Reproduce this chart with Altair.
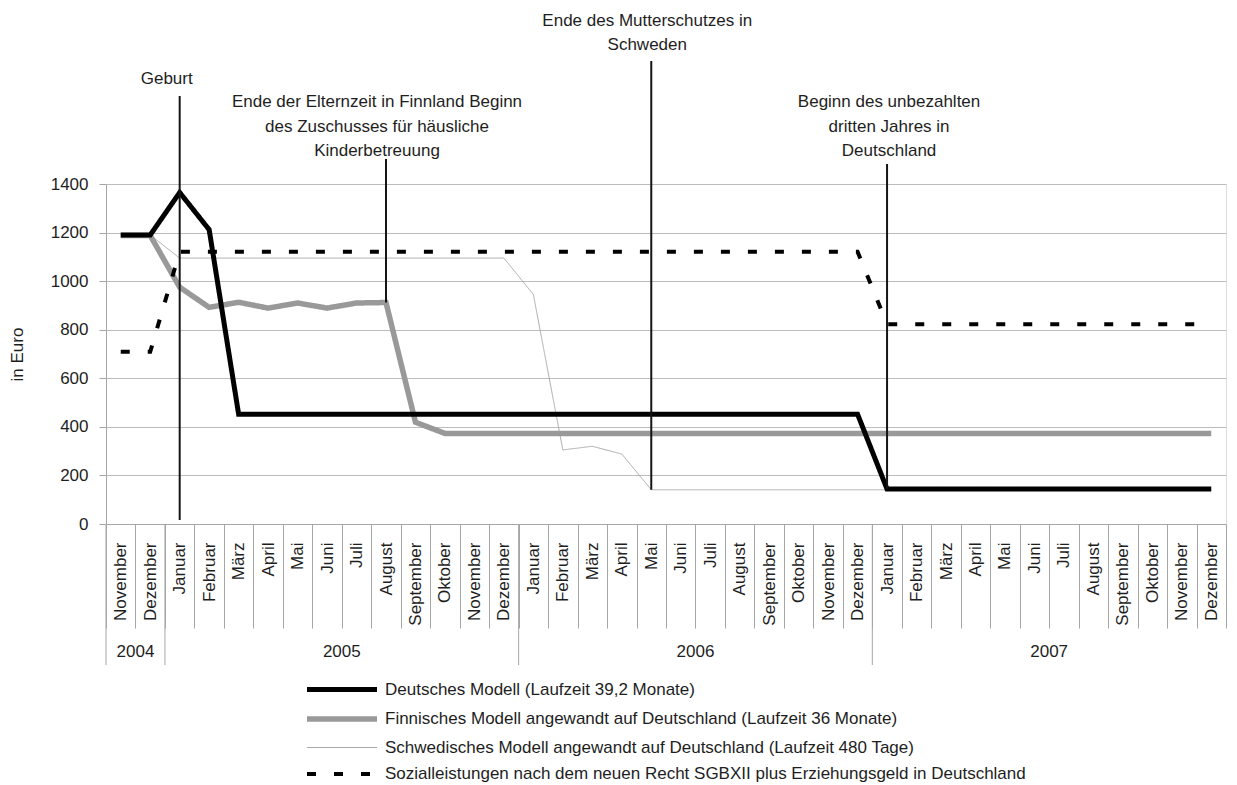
import altair as alt
import pandas as pd

# ---------------- data ----------------
month_names = [
    "November", "Dezember",
    "Januar", "Februar", "März", "April", "Mai", "Juni", "Juli", "August",
    "September", "Oktober", "November", "Dezember",
    "Januar", "Februar", "März", "April", "Mai", "Juni", "Juli", "August",
    "September", "Oktober", "November", "Dezember",
    "Januar", "Februar", "März", "April", "Mai", "Juni", "Juli", "August",
    "September", "Oktober", "November", "Dezember",
]
month_years = [
    2004, 2004,
    2005, 2005, 2005, 2005, 2005, 2005, 2005, 2005, 2005, 2005, 2005, 2005,
    2006, 2006, 2006, 2006, 2006, 2006, 2006, 2006, 2006, 2006, 2006, 2006,
    2007, 2007, 2007, 2007, 2007, 2007, 2007, 2007, 2007, 2007, 2007, 2007,
]

series_names = [
    "Deutsches Modell (Laufzeit 39,2 Monate)",
    "Finnisches Modell angewandt auf Deutschland (Laufzeit 36 Monate)",
    "Schwedisches Modell angewandt auf Deutschland (Laufzeit 480 Tage)",
    "Sozialleistungen nach dem neuen Recht SGBXII plus Erziehungsgeld in Deutschland",
]

deutsches = [
    1190, 1190,
    1365, 1212, 452, 452, 452, 452, 452, 452, 452, 452, 452, 452,
    452, 452, 452, 452, 452, 452, 452, 452, 452, 452, 452, 452,
    144, 144, 144, 144, 144, 144, 144, 144, 144, 144, 144, 144,
]
finnisches = [
    1188, 1188,
    975, 892, 913, 889, 910, 889, 910, 912, 419, 373, 373, 373,
    373, 373, 373, 373, 373, 373, 373, 373, 373, 373, 373, 373,
    373, 373, 373, 373, 373, 373, 373, 373, 373, 373, 373, 373,
]
schwedisches = [
    1190, 1190,
    1095, 1095, 1095, 1095, 1095, 1095, 1095, 1095, 1095, 1095, 1095, 1095,
    945, 305, 320, 288, 141, 141, 141, 141, 141, 141, 141, 141,
    141, 141, 141, 141, 141, 141, 141, 141, 141, 141, 141, 141,
]
sozial = [
    709, 709,
    1121, 1121, 1121, 1121, 1121, 1121, 1121, 1121, 1121, 1121, 1121, 1121,
    1121, 1121, 1121, 1121, 1121, 1121, 1121, 1121, 1121, 1121, 1121, 1121,
    823, 823, 823, 823, 823, 823, 823, 823, 823, 823, 823, 823,
]

ann_month = ["2005|Januar", "2005|August", "2006|Mai", "2007|Januar"]
ann_top = [1762, 1503, 1906, 1482]
ann_bottom = [16, 912, 141, 144]
ann_lines = [
    ["Geburt"],
    ["Ende der Elternzeit in Finnland Beginn", "des Zuschusses für häusliche", "Kinderbetreuung"],
    ["Ende des Mutterschutzes in", "Schweden"],
    ["Beginn des unbezahlten", "dritten Jahres in", "Deutschland"],
]
ann_text_y = [
    [1832],
    [1738, 1635, 1536],
    [2072, 1972],
    [1738, 1635, 1536],
]

year_labels = ["2004", "2005", "2006", "2007"]

# ---------------- tables ----------------
keys = [f"{y}|{m}" for y, m in zip(month_years, month_names)]
values_by_series = [deutsches, finnisches, schwedisches, sozial]
rows = []
for name, vals in zip(series_names, values_by_series):
    for k, v in zip(keys, vals):
        rows.append({"key": k, "Euro": v, "Modell": name})
df = pd.DataFrame(rows)

year_first, year_mid = [], []
for yl in year_labels:
    idx = [i for i, y in enumerate(month_years) if str(y) == yl]
    year_first.append(keys[idx[0]])
    year_mid.append(keys[idx[0] + len(idx) // 2])

# ---------------- style ----------------
FONT = "Liberation Sans"
TXT = "#1e1e1e"
GRID = "#bcbcbc"
AX = "#a6a6a6"
W, H = 1120, 340
FS = 17

line_colors = ["#000000", "#999999", "#ababab", "#000000"]
line_widths = [5, 5.5, 1, 4]
line_dashes = [[1, 0], [1, 0], [1, 0], [9, 18]]
draw_order = [2, 1, 0, 3]
text_dx = [-13, -9, -4, 2]

x_scale = alt.Scale(type="band", domain=keys, paddingInner=0, paddingOuter=0)
y_scale = alt.Scale(domain=[0, 1400], nice=False, zero=True)

x_axis = alt.Axis(
    title=None, labelExpr="split(datum.label, '|')[1]", labelAngle=270,
    labelAlign="right", labelBaseline="middle", labelPadding=-86,
    tickSize=104, tickBand="extent", tickColor=AX, domainColor=AX,
    labelFontSize=FS, labelColor=TXT, grid=False, labelOverlap=False,
)
y_axis = alt.Axis(
    title="in Euro", values=[0, 200, 400, 600, 800, 1000, 1200, 1400], format="d",
    tickSize=7, labelPadding=11, labelFontSize=FS, labelColor=TXT,
    grid=True, gridColor=GRID, domainColor=AX, tickColor=AX,
    titlePadding=24, titleFontSize=FS, titleFontWeight="normal", titleColor=TXT,
)

leg = alt.Legend(
    title=None, orient="none", legendX=198, legendY=495, direction="vertical",
    symbolType="M-1,0H7.75", symbolSize=256, labelOffset=59, labelFontSize=FS,
    labelColor=TXT, labelLimit=0, rowPadding=8,
    symbolStrokeWidth={"expr": "scale('strokeWidth', datum.value)"},
    symbolDash={"expr": "scale('strokeDash', datum.value)"},
)

X = lambda **kw: alt.X("key:N", scale=x_scale, axis=x_axis, sort=None, **kw)

base = alt.Chart(df).mark_line(strokeCap="butt").encode(
    x=X(),
    y=alt.Y("Euro:Q", scale=y_scale, axis=y_axis),
    color=alt.Color("Modell:N", scale=alt.Scale(domain=series_names, range=line_colors), legend=leg),
    strokeWidth=alt.StrokeWidth(
        "Modell:N", scale=alt.Scale(type="ordinal", domain=series_names, range=line_widths), legend=None
    ),
    strokeDash=alt.StrokeDash(
        "Modell:N", scale=alt.Scale(type="ordinal", domain=series_names, range=line_dashes), legend=None
    ),
)
line_layers = [base.transform_filter(alt.datum.Modell == series_names[i]) for i in draw_order]

ann_df = pd.DataFrame({"key": ann_month, "top": ann_top, "bottom": ann_bottom})
rules = alt.Chart(ann_df).mark_rule(color="#151515", strokeWidth=2).encode(
    x=X(),
    y=alt.Y("top:Q", scale=y_scale, axis=y_axis),
    y2="bottom:Q",
)

text_layers = []
for k, lines, ys, dx in zip(ann_month, ann_lines, ann_text_y, text_dx):
    tdf = pd.DataFrame({"key": [k] * len(lines), "txt": lines, "ty": ys})
    text_layers.append(
        alt.Chart(tdf).mark_text(dx=dx, fontSize=FS, align="center", baseline="middle", color=TXT).encode(
            x=X(),
            y=alt.Y("ty:Q", scale=y_scale, axis=y_axis),
            text="txt:N",
        )
    )

sep = alt.Chart(pd.DataFrame({"key": year_first})).mark_rule(color=AX, strokeWidth=1).encode(
    x=X(bandPosition=0),
    y=alt.value(H), y2=alt.value(H + 141),
)
years = alt.Chart(pd.DataFrame({"key": year_mid, "label": year_labels})).mark_text(
    fontSize=FS, align="center", baseline="middle", color=TXT
).encode(
    x=X(bandPosition=0),
    y=alt.value(H + 128),
    text="label:N",
)

chart = alt.layer(*line_layers, rules, *text_layers, sep, years).properties(
    width=W, height=H, padding={"left": 0, "top": 3, "right": 0, "bottom": 0}
).configure_view(stroke=None).configure(font=FONT)

chart.save("out.html", embed_options={"renderer": "svg", "actions": False})
